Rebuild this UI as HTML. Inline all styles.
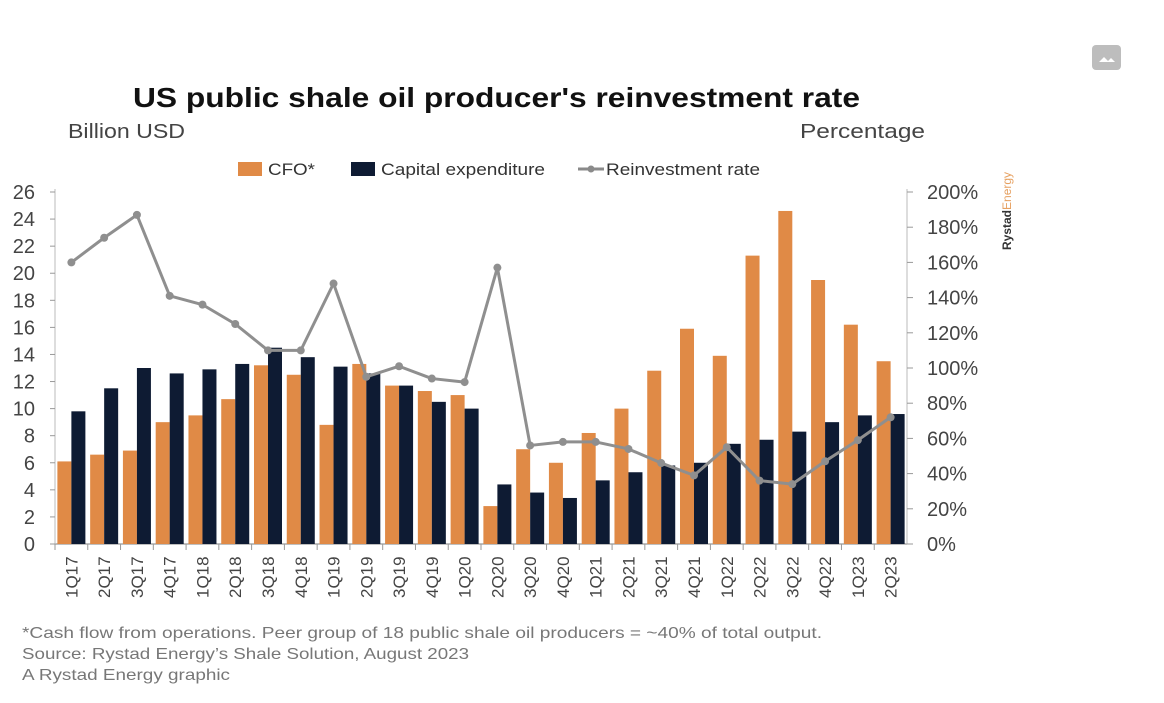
<!DOCTYPE html>
<html><head><meta charset="utf-8"><style>
body{margin:0;width:1164px;height:703px;background:#fff;overflow:hidden;font-family:"Liberation Sans",sans-serif}
svg{position:absolute;left:0;top:0}
</style></head><body>
<svg width="1164" height="703">
<rect x="1092" y="45" width="29" height="25" rx="4" fill="#bdbdbd"/>
<path d="M1099 62 l5-5 4 4 3-3 4 4z" fill="#fff"/>
<text x="133" y="107" textLength="727" lengthAdjust="spacingAndGlyphs" font-size="28" font-weight="bold" fill="#111">US public shale oil producer's reinvestment rate</text>
<text x="68" y="138" textLength="117" lengthAdjust="spacingAndGlyphs" font-size="20" fill="#444">Billion USD</text>
<text x="800" y="138" textLength="125" lengthAdjust="spacingAndGlyphs" font-size="20" fill="#444">Percentage</text>
<g>
<rect x="238" y="162" width="24" height="14" fill="#e08a46"/>
<text x="268" y="175" textLength="47" lengthAdjust="spacingAndGlyphs" font-size="17" fill="#333">CFO*</text>
<rect x="351" y="162" width="24" height="14" fill="#0e1b33"/>
<text x="381" y="175" textLength="164" lengthAdjust="spacingAndGlyphs" font-size="17" fill="#333">Capital expenditure</text>
<line x1="578" y1="169" x2="604" y2="169" stroke="#8a8a8a" stroke-width="3"/><circle cx="591" cy="169" r="3.5" fill="#8a8a8a"/>
<text x="606" y="175" textLength="154" lengthAdjust="spacingAndGlyphs" font-size="17" fill="#333">Reinvestment rate</text>
</g>
<g transform="translate(1011,250) rotate(-90)"><text font-size="12" font-weight="bold" fill="#333">Rystad<tspan fill="#e6a060" font-weight="normal">Energy</tspan></text></g>
<g id="plot"></g>
<text x="22" y="638" textLength="800" lengthAdjust="spacingAndGlyphs" font-size="16" fill="#777">*Cash flow from operations. Peer group of 18 public shale oil producers = ~40% of total output.</text>
<text x="22" y="659" textLength="447" lengthAdjust="spacingAndGlyphs" font-size="16" fill="#777">Source: Rystad Energy’s Shale Solution, August 2023</text>
<text x="22" y="680" textLength="208" lengthAdjust="spacingAndGlyphs" font-size="16" fill="#777">A Rystad Energy graphic</text>
</svg>
<script>
const categories=["1Q17","2Q17","3Q17","4Q17","1Q18","2Q18","3Q18","4Q18","1Q19","2Q19","3Q19","4Q19","1Q20","2Q20","3Q20","4Q20","1Q21","2Q21","3Q21","4Q21","1Q22","2Q22","3Q22","4Q22","1Q23","2Q23"];
const cfo=[6.1,6.6,6.9,9.0,9.5,10.7,13.2,12.5,8.8,13.3,11.7,11.3,11.0,2.8,7.0,6.0,8.2,10.0,12.8,15.9,13.9,21.3,24.6,19.5,16.2,13.5];
const capex=[9.8,11.5,13.0,12.6,12.9,13.3,14.5,13.8,13.1,12.6,11.7,10.5,10.0,4.4,3.8,3.4,4.7,5.3,5.8,6.0,7.4,7.7,8.3,9.0,9.5,9.6];
const rate=[160,174,187,141,136,125,110,110,148,95,101,94,92,157,56,58,58,54,46,39,55,36,34,47,59,72];
const leftTicks=[0,2,4,6,8,10,12,14,16,18,20,22,24,26];
const rightTicks=[0,20,40,60,80,100,120,140,160,180,200];
const NS="http://www.w3.org/2000/svg",g=document.getElementById('plot');
const X0=55,X1=907,Y0=544,Y1=192,bw=(X1-X0)/categories.length;
const yL=v=>Y0-(v/26)*(Y0-Y1), yR=v=>Y0-(v/200)*(Y0-Y1), xc=i=>X0+bw*(i+0.5);
function el(t,a){const e=document.createElementNS(NS,t);for(const k in a)e.setAttribute(k,a[k]);g.appendChild(e);return e;}
el('line',{x1:X0,y1:Y0,x2:X1,y2:Y0,stroke:'#aaa','stroke-width':1.5});
el('line',{x1:X0,y1:Y1-3,x2:X0,y2:Y0,stroke:'#bbb'});
el('line',{x1:X1,y1:Y1-3,x2:X1,y2:Y0,stroke:'#bbb'});
leftTicks.forEach(v=>{el('line',{x1:X0-5,y1:yL(v),x2:X0,y2:yL(v),stroke:'#999'});
const t=el('text',{x:X0-20,y:yL(v)+7,'text-anchor':'end','font-size':20,fill:'#444'});t.textContent=v;

});
rightTicks.forEach(v=>{el('line',{x1:X1,y1:yR(v),x2:X1+6,y2:yR(v),stroke:'#999'});
const t=el('text',{x:X1+20,y:yR(v)+7,'font-size':20,fill:'#444'});t.textContent=v+'%';

});
categories.forEach((c,i)=>{
el('line',{x1:X0+bw*i,y1:Y0,x2:X0+bw*i,y2:Y0+6,stroke:'#999'});
const a=el('rect',{x:xc(i)-14,y:yL(cfo[i]),width:14,height:Y0-yL(cfo[i]),fill:'#e08a46'});


const b=el('rect',{x:xc(i),y:yL(capex[i]),width:14,height:Y0-yL(capex[i]),fill:'#0e1b33'});


const t=el('text',{transform:`translate(${xc(i)+6},${Y0+54}) rotate(-90)`,'font-size':17,fill:'#444'});t.textContent=c;


});
const ln=el('polyline',{points:rate.map((v,i)=>xc(i)+','+yR(v)).join(' '),fill:'none',stroke:'#8f8f8f','stroke-width':3,'stroke-linejoin':'round'});


rate.forEach((v,i)=>{const p=el('circle',{cx:xc(i),cy:yR(v),r:4,fill:'#8f8f8f'});

});
</script>
</body></html>
